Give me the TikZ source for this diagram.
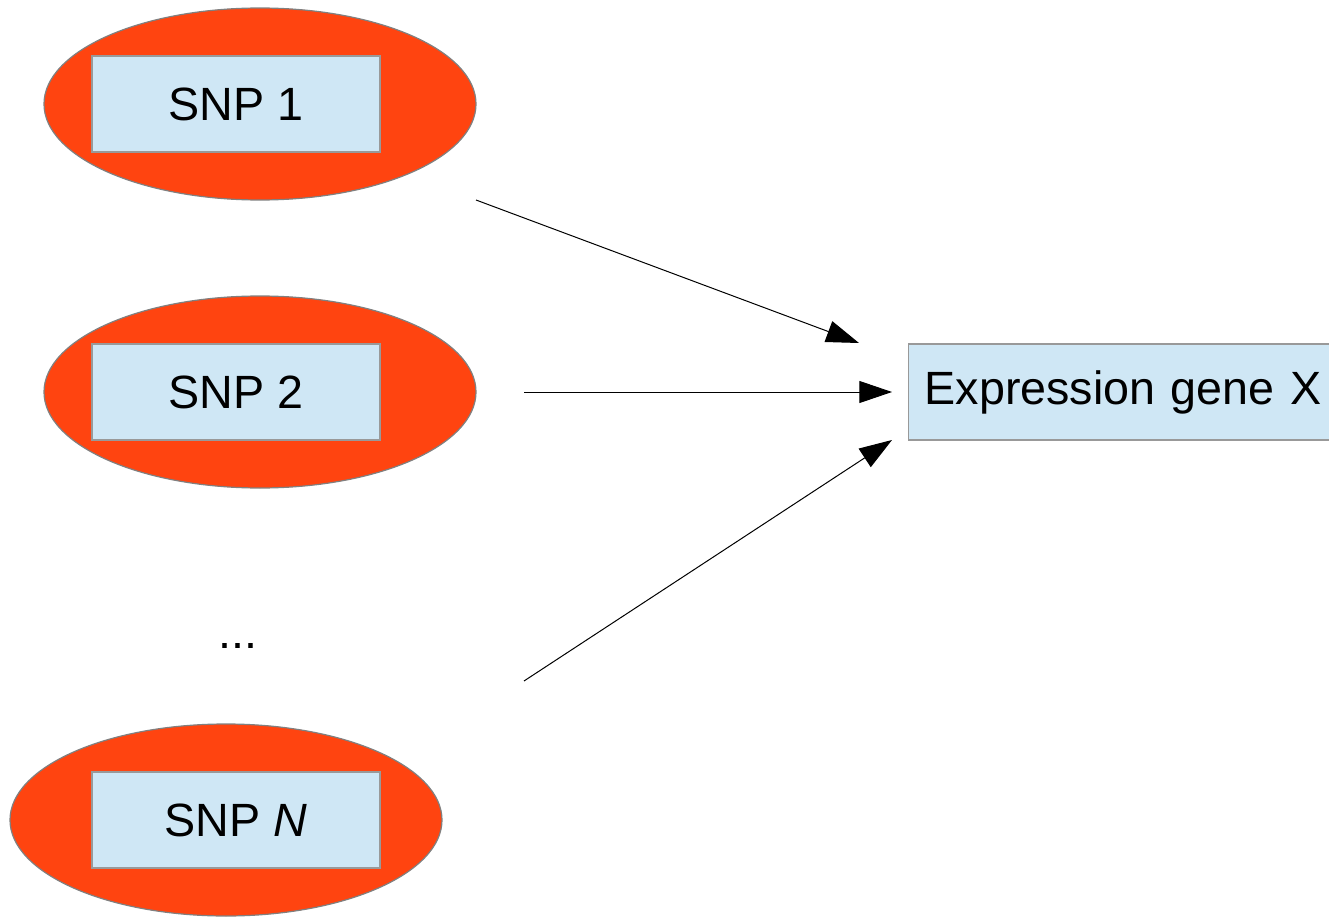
\documentclass[tikz,border=0pt]{standalone}
\usepackage{fontspec}
\setmainfont{Liberation Sans}
\usetikzlibrary{shapes.geometric,arrows.meta}
\definecolor{snpred}{HTML}{FF4410}
\definecolor{boxblue}{HTML}{CFE7F5}
\definecolor{rimgray}{HTML}{808080}
\definecolor{boxgray}{HTML}{999999}
% 1 unit = 1 px = 0.75pt
\tikzset{
  snpoval/.style={ellipse, draw=rimgray, line width=0.9pt, fill=snpred,
    minimum width=324pt, minimum height=144pt, inner sep=0pt},
  snpbox/.style={rectangle, draw=boxgray, line width=0.9pt, fill=boxblue,
    minimum width=216pt, minimum height=72pt, inner sep=0pt,
    font=\fontsize{35}{42}\selectfont},
  link/.style={line width=0.75pt, -{Triangle[length=24.5pt,width=16.5pt]}}
}
\begin{document}
\begin{tikzpicture}[x=0.75pt,y=-0.75pt]
  \useasboundingbox (0,0) rectangle (1329,917);
  % SNP ovals with their labelled boxes
  \node[snpoval] (o1) at (260,104) {};
  \node[snpbox]  (s1) at (236,104) {SNP 1};
  \node[snpoval] (o2) at (260,392) {};
  \node[snpbox]  (s2) at (236,392) {SNP 2};
  \node[snpoval] (oN) at (226,820) {};
  \node[snpbox]  (sN) at (236,820) {SNP \textit{N}};
  \node[font=\fontsize{35}{42}\selectfont] (dots) at (238,646) {...};
  % target box, running past the right edge
  \node[snpbox, anchor=west, text width=300pt, inner xsep=12pt, align=left]
    (gx) at (908,392) {Expression gene X};
  % arrows
  \coordinate (a1) at (476,200);
  \coordinate (b1) at (859,343);
  \coordinate (a2) at (524,392);
  \coordinate (b2) at (892,392);
  \coordinate (a3) at (524,681);
  \coordinate (b3) at (892,440);
  \draw[link] (a1) -- (b1);
  \draw[link] (a2) -- (b2);
  \draw[link] (a3) -- (b3);
\end{tikzpicture}
\end{document}
